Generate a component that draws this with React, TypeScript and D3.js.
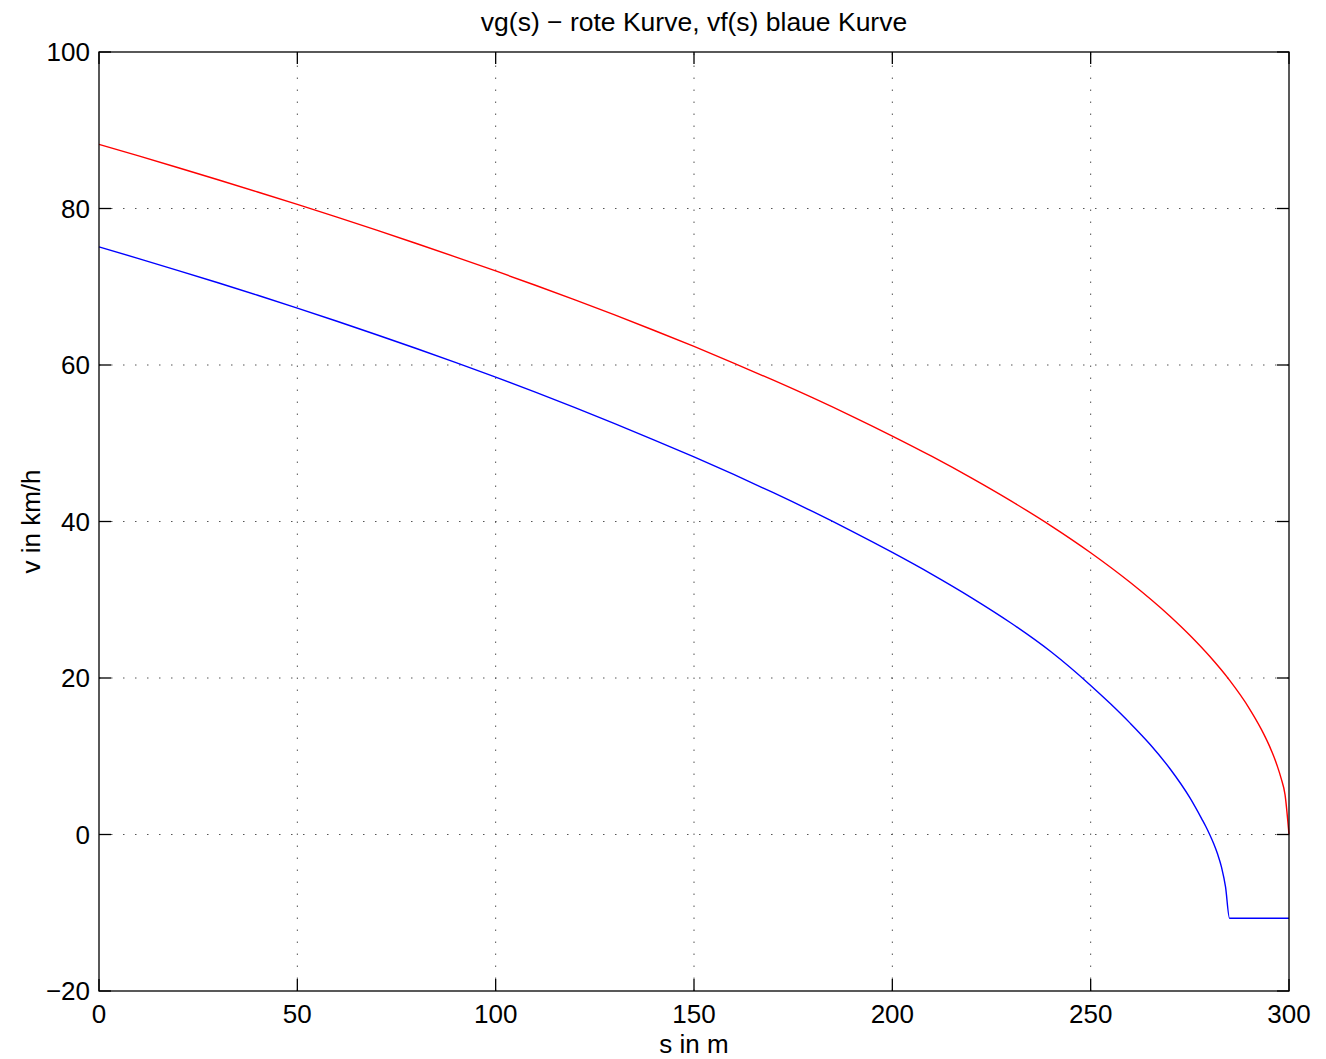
import React from "react";
import * as d3 from "d3";

const redS = [0, 10, 20, 30, 40, 50, 60, 70, 80, 90, 100, 110, 120, 130, 140, 150, 160, 170, 180, 190, 200, 210, 220, 230, 240, 250, 260, 270, 275, 280, 285, 290, 293, 295, 297, 298, 299, 300];
const redV = [88.2, 86.72, 85.21, 83.67, 82.11, 80.52, 78.89, 77.23, 75.53, 73.79, 72.02, 70.19, 68.32, 66.4, 64.41, 62.37, 60.25, 58.06, 55.79, 53.41, 50.92, 48.31, 45.54, 42.6, 39.45, 36.01, 32.2, 27.89, 25.46, 22.77, 19.72, 16.1, 13.47, 11.39, 8.82, 7.2, 5.09, 0];

const blueS = [0, 10, 20, 30, 40, 50, 60, 70, 80, 90, 100, 110, 120, 130, 140, 150, 160, 170, 180, 190, 200, 210, 220, 230, 240, 250, 255, 260, 265, 270, 275, 278, 279, 280, 281, 282, 283, 284, 285, 300];
const blueV = [75.1, 73.6, 72.07, 70.51, 68.91, 67.27, 65.59, 63.87, 62.11, 60.31, 58.46, 56.53, 54.55, 52.51, 50.41, 48.25, 46.01, 43.68, 41.25, 38.71, 36.05, 33.25, 30.25, 27.0, 23.35, 19.05, 16.7, 14.2, 11.5, 8.4, 4.7, 2.0, 1.05, 0, -1.15, -2.5, -4.2, -6.7, -10.7, -10.7];

const xTicks = [0, 50, 100, 150, 200, 250, 300];
const yTicks = [-20, 0, 20, 40, 60, 80, 100];

const title = "vg(s) \u2212 rote Kurve, vf(s) blaue Kurve";
const xLabel = "s in m";
const yLabel = "v in km/h";

export default function App() {
  const W = 1326, H = 1059;
  const L = 99, R = 1289, T = 52, B = 991;
  const x = d3.scaleLinear().domain([0, 300]).range([L, R]);
  const y = d3.scaleLinear().domain([-20, 100]).range([B, T]);
  const line = d3.line<[number, number]>().x(d => x(d[0])).y(d => y(d[1])).curve(d3.curveMonotoneX);
  const red = line(redS.map((s, i) => [s, redV[i]] as [number, number])) || "";
  const blue = line(blueS.map((s, i) => [s, blueV[i]] as [number, number])) || "";
  const font = "'Liberation Sans', Arial, Helvetica, sans-serif";
  const fs = 26;
  const tick = 12;
  return (
    <svg width={W} height={H} style={{ position: "absolute", left: 0, top: 0, background: "#fff" }} fontFamily={font}>
      <rect x={0} y={0} width={W} height={H} fill="#fff" />
      {xTicks.slice(1, -1).map(t => (
        <line key={"gx" + t} x1={x(t)} x2={x(t)} y1={B} y2={T} stroke="#555" strokeWidth={1} strokeDasharray="1.5,10.5" />
      ))}
      {yTicks.slice(1, -1).map(t => (
        <line key={"gy" + t} x1={L} x2={R} y1={y(t)} y2={y(t)} stroke="#555" strokeWidth={1} strokeDasharray="1.5,10.5" />
      ))}
      <path d={red} fill="none" stroke="#ff0000" strokeWidth={1.4} />
      <path d={blue} fill="none" stroke="#0000ff" strokeWidth={1.4} />
      <rect x={L} y={T} width={R - L} height={B - T} fill="none" stroke="#000" strokeWidth={1.3} />
      {xTicks.map(t => (
        <g key={"tx" + t}>
          <line x1={x(t)} x2={x(t)} y1={B} y2={B - tick} stroke="#000" strokeWidth={1.3} />
          <line x1={x(t)} x2={x(t)} y1={T} y2={T + tick} stroke="#000" strokeWidth={1.3} />
          <text x={x(t)} y={1023} fontSize={fs} textAnchor="middle" fill="#000">{t}</text>
        </g>
      ))}
      {yTicks.map(t => (
        <g key={"ty" + t}>
          <line x1={L} x2={L + tick} y1={y(t)} y2={y(t)} stroke="#000" strokeWidth={1.3} />
          <line x1={R} x2={R - tick} y1={y(t)} y2={y(t)} stroke="#000" strokeWidth={1.3} />
          <text x={90} y={y(t) + 9.3} fontSize={fs} textAnchor="end" fill="#000">{t === -20 ? "\u221220" : t}</text>
        </g>
      ))}
      <text x={(L + R) / 2} y={30.5} fontSize={26.5} textAnchor="middle" fill="#000">{title}</text>
      <text x={(L + R) / 2} y={1053} fontSize={fs} textAnchor="middle" fill="#000">{xLabel}</text>
      <text transform={`translate(40, ${(T + B) / 2}) rotate(-90)`} fontSize={fs} textAnchor="middle" fill="#000">{yLabel}</text>
    </svg>
  );
}
